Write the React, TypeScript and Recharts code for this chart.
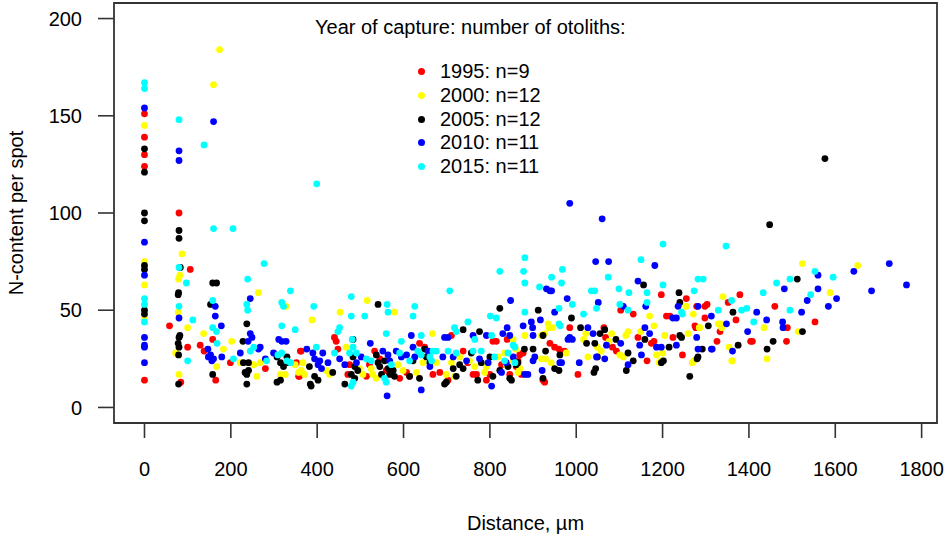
import { ScatterChart, Scatter, XAxis, YAxis, Legend, ReferenceArea, Label } from "recharts";

const FONT = "'Liberation Sans', Arial, Helvetica, sans-serif";

// axis extents (R-style 4% padding round the data range)
const xDomain: [number, number] = [-70.6, 1835.6];
const yDomain: [number, number] = [-8, 208];
const xTicks = [0, 200, 400, 600, 800, 1000, 1200, 1400, 1600, 1800];
const yTicks = [0, 50, 100, 150, 200];

const legendTitle = "Year of capture: number of otoliths:";
const seriesNames = ["1995: n=9", "2000: n=12", "2005: n=12", "2010: n=11", "2015: n=11"];
const seriesColors = ["#ff0000", "#ffff00", "#000000", "#0000ff", "#00ffff"];

// [distance µm, N-content per spot]
const red1995: [number, number][] = [
  [0, 151], [0, 139], [0, 130], [0, 124], [0, 14],
  [80, 100], [106, 71], [58, 42], [100, 31], [84, 13],
  [158, 35], [129, 32], [138, 29], [165, 14], [199, 23], [280, 20], [361, 29], [352, 23], [357, 16],
  [363, 29], [359, 16], [448, 30], [440, 36], [444, 34], [475, 22], [471, 17], [514, 16], [521, 22],
  [533, 29], [545, 25], [560, 19], [591, 15], [607, 18], [614, 16], [637, 33], [649, 31], [668, 17],
  [684, 18], [703, 14], [711, 37], [738, 29], [749, 23], [761, 17], [769, 17], [792, 14], [800, 17],
  [807, 34], [815, 34], [840, 35], [827, 22], [846, 17], [861, 21], [865, 24],
  [877, 28], [869, 27], [873, 17], [923, 14], [927, 13], [939, 33], [950, 31], [960, 30], [973, 29],
  [985, 41], [1004, 17], [1064, 41], [1068, 36], [1084, 31], [1093, 29], [1103, 50], [1132, 48],
  [1143, 36], [1164, 24], [1174, 33], [1180, 34], [1197, 58], [1209, 47], [1217, 47], [1224, 36],
  [1246, 27], [1255, 56], [1275, 42], [1277, 41], [1279, 52], [1298, 52], [1298, 46], [1303, 53],
  [1326, 34], [1333, 39], [1352, 54], [1370, 45], [1379, 58], [1404, 34], [1408, 34], [1460, 52],
  [1487, 34], [1489, 41], [1553, 44],
];

const yellow2000: [number, number][] = [
  [0, 145], [0, 75], [0, 63], [0, 46],
  [87, 79], [82, 68], [79, 66], [78, 49], [100, 41], [72, 28], [80, 17],
  [174, 184], [160, 166], [137, 38], [183, 30], [167, 21], [202, 34], [264, 59], [222, 23], [253, 22],
  [260, 16], [268, 23], [328, 52], [315, 17], [326, 17], [349, 22], [357, 18], [388, 45],
  [453, 49], [467, 31], [516, 55], [579, 49], [367, 23], [363, 19], [371, 17], [421, 19], [429, 17],
  [498, 20], [506, 17], [525, 20], [529, 17], [537, 15], [587, 22], [599, 19], [630, 18], [645, 23],
  [667, 38], [676, 23], [699, 17], [718, 16], [711, 23], [730, 26], [753, 24], [765, 21], [788, 18],
  [792, 21], [819, 26], [834, 28], [838, 22], [854, 24],
  [1170, 47], [1254, 52], [1340, 57], [1271, 48], [1329, 43], [1337, 41], [1286, 41], [1259, 38],
  [1205, 37], [1186, 27], [1200, 28], [1192, 23], [1197, 24], [1269, 23], [1149, 39], [1180, 42],
  [1120, 39], [1115, 37], [1082, 38], [1076, 34], [1101, 27], [1109, 26], [1022, 38], [1017, 35],
  [1049, 31], [1058, 29], [1027, 26], [977, 28], [942, 23], [935, 43], [937, 41], [945, 41], [927, 38],
  [919, 37], [881, 37], [854, 35], [919, 25], [929, 25], [869, 20], [865, 18], [860, 30],
  [1524, 74], [1652, 73], [1588, 59], [1514, 39], [1435, 41], [1442, 25], [1360, 24], [1354, 31],
  [1334, 43], [1255, 52], [1285, 41], [1272, 24], [1362, 24],
];

const black2005: [number, number][] = [
  [0, 133], [0, 121], [0, 100], [0, 96], [0, 73], [0, 71], [0, 50], [0, 48],
  [80, 91], [80, 87], [83, 72], [79, 59], [78, 58], [82, 37], [80, 36], [78, 33], [80, 31], [79, 27], [79, 12],
  [158, 64], [167, 64], [153, 53], [158, 17], [228, 34], [237, 43], [229, 23], [241, 23], [233, 18],
  [237, 17], [241, 19], [237, 12], [307, 26], [315, 23], [322, 21], [334, 23], [330, 26], [307, 13],
  [315, 14], [384, 12],
  [541, 53], [823, 51], [483, 35], [382, 21], [386, 11], [402, 14], [394, 16], [436, 18], [464, 12],
  [483, 26], [487, 21], [479, 17], [487, 15], [494, 19], [537, 27], [541, 23], [545, 21], [549, 17],
  [556, 24], [564, 20], [568, 17], [576, 19], [579, 16], [614, 16], [622, 24], [637, 15], [649, 30],
  [653, 26], [661, 23], [695, 12], [699, 13], [715, 20], [730, 22], [738, 20], [722, 16], [738, 40],
  [776, 39], [757, 28], [772, 14], [780, 23], [800, 26], [807, 16], [823, 19], [846, 15], [842, 21],
  [1156, 63], [1238, 59], [912, 50], [989, 46], [1306, 42], [1240, 37], [1282, 26], [1292, 30],
  [1263, 16], [1197, 23], [1202, 24], [1215, 31], [1159, 35], [1092, 35], [1120, 28], [1132, 24],
  [1116, 19], [1066, 40], [1055, 38], [1010, 41], [1024, 33], [1043, 33], [1049, 26], [1045, 20],
  [1041, 18], [923, 37], [880, 30], [900, 30], [929, 29], [962, 27], [950, 20], [960, 19], [923, 15],
  [865, 23], [861, 22], [850, 14],
  [1576, 128], [1448, 94], [1512, 66], [1524, 39], [1456, 34], [1442, 30], [1375, 32], [1363, 49],
  [1240, 54], [1244, 36], [1280, 25],
];

const blue2010: [number, number][] = [
  [0, 154], [0, 85], [0, 68], [0, 36], [0, 32], [0, 31], [0, 23],
  [80, 132], [80, 127], [80, 46],
  [160, 147], [164, 52], [164, 47], [178, 42], [147, 30], [153, 27], [160, 25], [156, 24], [148, 26],
  [179, 26], [245, 56], [245, 38], [249, 36], [240, 34], [264, 30], [268, 31], [222, 28], [280, 25],
  [299, 28], [318, 34], [328, 34], [311, 35], [376, 30],
  [848, 55], [523, 33], [618, 37], [695, 36], [703, 36], [761, 37], [792, 37], [830, 38], [840, 41],
  [846, 37], [390, 28], [394, 25], [406, 24], [402, 22], [410, 20], [413, 28], [425, 23], [452, 25],
  [464, 22], [491, 23], [502, 26], [552, 29], [564, 27], [568, 24], [562, 6], [583, 29], [595, 26],
  [607, 27], [622, 31], [626, 26], [641, 9], [657, 29], [661, 21], [691, 26], [715, 26], [746, 24],
  [776, 25], [796, 23], [804, 11], [827, 18], [838, 23], [854, 26],
  [985, 105], [1060, 97], [931, 61], [939, 60], [943, 60], [1045, 75], [1075, 75], [1182, 73],
  [1143, 65], [979, 56], [950, 49], [1051, 54], [1109, 52], [1161, 52], [1224, 46], [1232, 46],
  [1236, 52], [1282, 52], [1313, 47], [1348, 43], [1279, 36], [1232, 32], [1197, 31], [1186, 31],
  [1282, 30], [1313, 30], [1151, 27], [1147, 32], [1159, 41], [1170, 38], [1103, 33], [1120, 22],
  [1027, 41], [1039, 38], [1070, 32], [1047, 26], [1066, 25], [1007, 23], [985, 36], [981, 35],
  [991, 35], [966, 23], [962, 23], [921, 19], [896, 44], [899, 41], [900, 37], [917, 45], [877, 42],
  [904, 26], [900, 24], [881, 17], [888, 17],
  [1725, 74], [1643, 70], [1765, 63], [1560, 68], [1684, 60], [1603, 56], [1584, 52], [1560, 61],
  [1535, 55], [1482, 61], [1522, 49], [1478, 44], [1479, 41], [1441, 45], [1418, 49], [1397, 39],
  [1362, 29], [1315, 30],
];

const cyan2015: [number, number][] = [
  [0, 167], [0, 164], [0, 56], [0, 53], [0, 44],
  [80, 148], [80, 72], [97, 64], [80, 52], [112, 45], [100, 24],
  [138, 135], [399, 115], [160, 92], [205, 92], [158, 55], [158, 41], [167, 39], [168, 33], [206, 25],
  [239, 66], [277, 74], [237, 53], [239, 50], [253, 31], [245, 29], [283, 24], [318, 54], [322, 52],
  [318, 42], [349, 40], [309, 27], [318, 28], [330, 24], [338, 23], [392, 52], [338, 60],
  [479, 57], [479, 47], [510, 47], [562, 53], [564, 49], [626, 52], [622, 47], [707, 60], [823, 70],
  [801, 47], [815, 46], [749, 44], [452, 41], [448, 39], [560, 38], [481, 35], [595, 34], [641, 37],
  [718, 41], [722, 39], [765, 35], [804, 37], [854, 32], [398, 31], [440, 28], [475, 28], [483, 31],
  [491, 28], [479, 11], [483, 13], [514, 25], [525, 24], [560, 13], [572, 22], [556, 15], [591, 28],
  [614, 24], [633, 29], [641, 27], [661, 26], [668, 29], [665, 24], [676, 29], [703, 29], [722, 28],
  [761, 29], [780, 29], [811, 26], [834, 24], [842, 28], [858, 23],
  [1201, 84], [1347, 83], [881, 77], [878, 70], [881, 64], [968, 71], [966, 64], [943, 67], [915, 62],
  [1074, 67], [1150, 76], [1201, 63], [1282, 66], [1294, 66], [1035, 60], [1043, 60], [1099, 61],
  [1122, 59], [1164, 59], [1273, 60], [991, 53], [881, 49], [960, 51], [1017, 48], [1047, 51],
  [1101, 53], [1120, 50], [1164, 54], [1244, 49], [1329, 50], [960, 43], [963, 42], [858, 31],
  [1553, 70], [1595, 67], [1495, 66], [1464, 64], [1543, 58], [1433, 59], [1495, 50], [1411, 44],
  [1383, 50], [1395, 51], [1360, 55], [1246, 48],
];

const allSeries = [red1995, yellow2000, black2005, blue2010, cyan2015];

const toPoints = (rows: [number, number][]) => rows.map(([x, y]) => ({ x, y }));

const Dot = (props: any) => <circle cx={props.cx} cy={props.cy} r={3.4} fill={props.fill} />;

const renderLegend = ({ payload }: any) => (
  <div style={{ position: "relative", width: 950, height: 190, fontFamily: FONT, fontSize: 20, color: "#000" }}>
    <div style={{ position: "absolute", left: 315, top: 16, lineHeight: "23px", whiteSpace: "nowrap" }}>{legendTitle}</div>
    <div style={{ position: "absolute", left: 418, top: 60 }}>
      {(payload || []).map((entry: any, i: number) => (
        <div key={`legend-${i}`} style={{ display: "flex", alignItems: "center", height: 23.7, whiteSpace: "nowrap" }}>
          <span style={{ width: 7, height: 7, borderRadius: "50%", background: entry.color, display: "inline-block" }} />
          <span style={{ marginLeft: 15 }}>{entry.value}</span>
        </div>
      ))}
    </div>
  </div>
);

export default function App() {
  const axisStroke = "#333";
  const tickStyle = { fill: "#000", fontSize: 20, fontFamily: FONT };
  return (
    <div style={{ position: "absolute", left: 0, top: 0, background: "#fff" }}>
      <ScatterChart width={950} height={541} margin={{ top: 3, right: 13, bottom: 0, left: 0 }}>
        <XAxis
          type="number"
          dataKey="x"
          domain={xDomain}
          ticks={xTicks}
          allowDataOverflow
          height={118}
          axisLine={false}
          tickLine={{ stroke: axisStroke, strokeWidth: 1.6 }}
          tickSize={15}
          tickMargin={24}
          tick={tickStyle}
        >
          <Label value="Distance, µm" position="insideBottom" offset={11} style={{ fontSize: 20, fontFamily: FONT, fill: "#000" }} />
        </XAxis>
        <YAxis
          type="number"
          dataKey="y"
          domain={yDomain}
          ticks={yTicks}
          allowDataOverflow
          width={114}
          axisLine={false}
          tickLine={{ stroke: axisStroke, strokeWidth: 1.6 }}
          tickSize={16}
          tickMargin={16}
          tick={tickStyle}
        >
          <Label
            value="N-content per spot"
            angle={-90}
            position="insideLeft"
            offset={16}
            style={{ fontSize: 20, fontFamily: FONT, fill: "#000", textAnchor: "middle" }}
          />
        </YAxis>
        <ReferenceArea
          x1={xDomain[0]}
          x2={xDomain[1]}
          y1={yDomain[0]}
          y2={yDomain[1]}
          fill="none"
          stroke={axisStroke}
          strokeWidth={1.8}
          fillOpacity={0}
        />
        {allSeries.map((rows, i) => (
          <Scatter
            key={seriesNames[i]}
            name={seriesNames[i]}
            data={toPoints(rows)}
            fill={seriesColors[i]}
            shape={Dot}
            isAnimationActive={false}
          />
        ))}
        <Legend
          layout="horizontal"
          verticalAlign="middle"
          align="center"
          content={renderLegend}
          wrapperStyle={{ left: 0, top: 0, width: 950, pointerEvents: "none" }}
        />
      </ScatterChart>
    </div>
  );
}
